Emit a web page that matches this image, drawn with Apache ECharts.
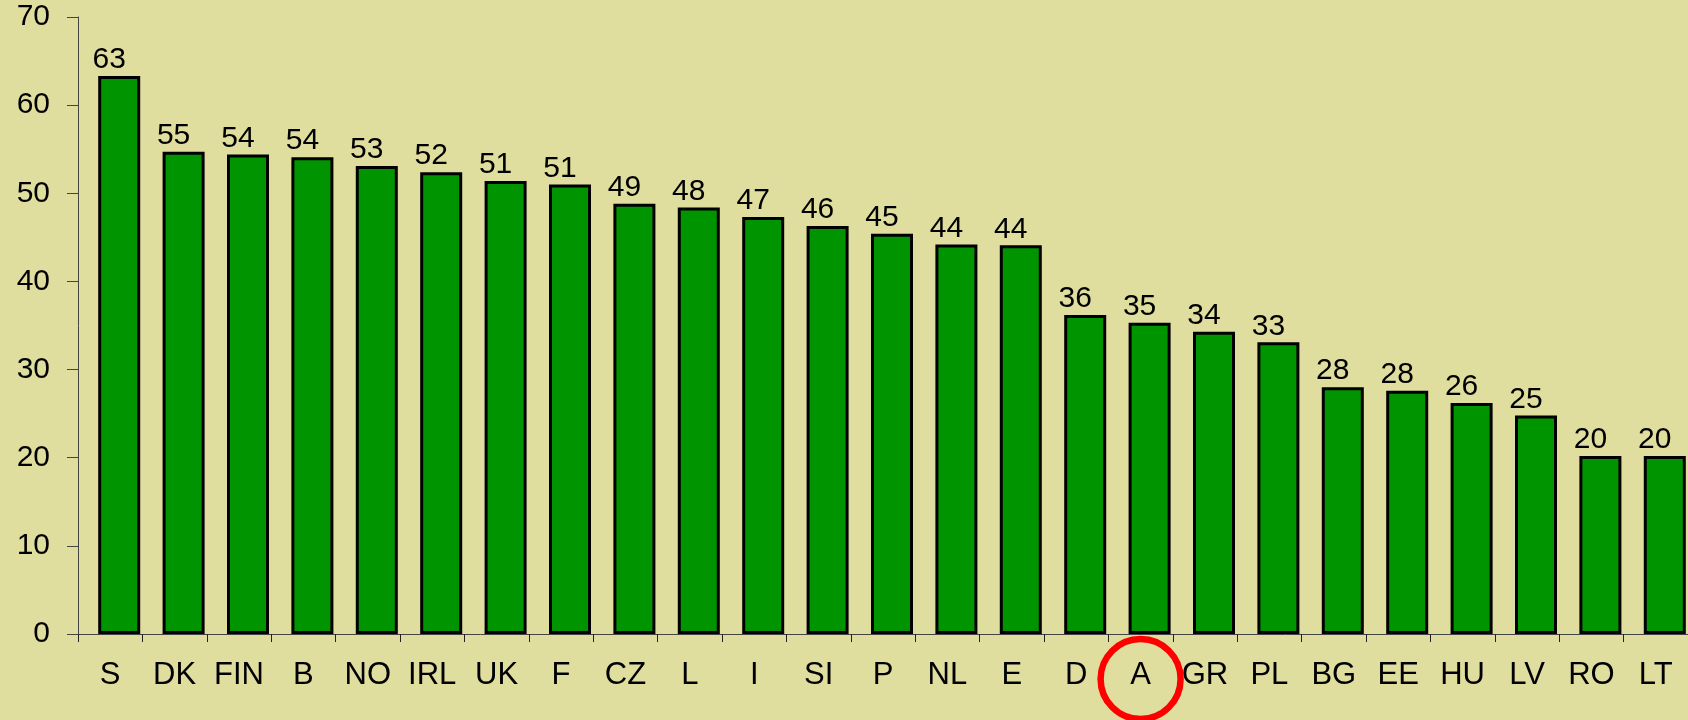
<!DOCTYPE html>
<html>
<head>
<meta charset="utf-8">
<script src="https://cdn.jsdelivr.net/npm/echarts@6/dist/echarts.min.js"></script>
<style>
  html, body { margin: 0; padding: 0; background: #dfde9e; overflow: hidden; }
  #chart { width: 1688px; height: 720px; }
</style>
</head>
<body>
<div id="chart"></div>
<script>
// 国家代码
var countries = ['S', 'DK', 'FIN', 'B', 'NO', 'IRL', 'UK', 'F', 'CZ', 'L', 'I', 'SI', 'P',
  'NL', 'E', 'D', 'A', 'GR', 'PL', 'BG', 'EE', 'HU', 'LV', 'RO', 'LT'];
// 柱高
var values = [63.3, 54.7, 54.4, 54.1, 53.1, 52.4, 51.4, 51.0, 48.8, 48.4, 47.3, 46.3, 45.4,
  44.2, 44.1, 36.2, 35.3, 34.3, 33.1, 28.0, 27.6, 26.2, 24.8, 20.2, 20.2];
var yTicks = [0, 10, 20, 30, 40, 50, 60, 70];
var highlighted = 'A';

var font = 'Liberation Sans, Arial, sans-serif';
var chart = echarts.init(document.getElementById('chart'));

chart.setOption({
  backgroundColor: '#dfde9e',
  animation: false,
  grid: { left: 78, top: 17, bottom: 86, right: -7 },
  xAxis: {
    type: 'category',
    data: countries,
    axisLine: { lineStyle: { color: '#444', width: 1 } },
    axisTick: { show: true, interval: 0, length: 8, lineStyle: { color: '#222' } },
    axisLabel: { interval: 0, color: '#000', fontFamily: font, fontSize: 31, margin: 26 }
  },
  yAxis: {
    type: 'value',
    min: yTicks[0],
    max: yTicks[yTicks.length - 1],
    interval: 10,
    splitLine: { show: false },
    axisLine: { show: true, lineStyle: { color: '#444', width: 1 } },
    axisTick: { show: true, length: 11, lineStyle: { color: '#444' } },
    axisLabel: { color: '#000', fontFamily: font, fontSize: 30, margin: 28, padding: [14, 0, 0, 0] }
  },
  series: [
    {
      // 占位，让柱子偏右
      name: 'spacer',
      type: 'bar',
      barWidth: 18,
      barGap: '0%',
      silent: true,
      data: countries.map(function () { return '-'; })
    },
    {
      name: 'value',
      type: 'bar',
      barWidth: 42,
      barGap: '0%',
      data: values,
      itemStyle: { color: '#009400', borderColor: '#000', borderWidth: 3 },
      label: {
        show: true,
        position: 'top',
        distance: 1,
        offset: [-10, 0],
        color: '#000',
        fontFamily: font,
        fontSize: 30,
        formatter: function (p) { return Math.round(p.value); }
      }
    }
  ]
});

// 红圈标出 A
var cx = chart.convertToPixel({ xAxisIndex: 0 }, highlighted);
var y0 = chart.convertToPixel({ yAxisIndex: 0 }, 0);
chart.setOption({
  graphic: [{
    type: 'circle',
    shape: { cx: cx, cy: y0 + 45, r: 40 },
    style: { fill: 'none', stroke: '#ff0000', lineWidth: 6.5 },
    z: 10
  }]
});
</script>
</body>
</html>
